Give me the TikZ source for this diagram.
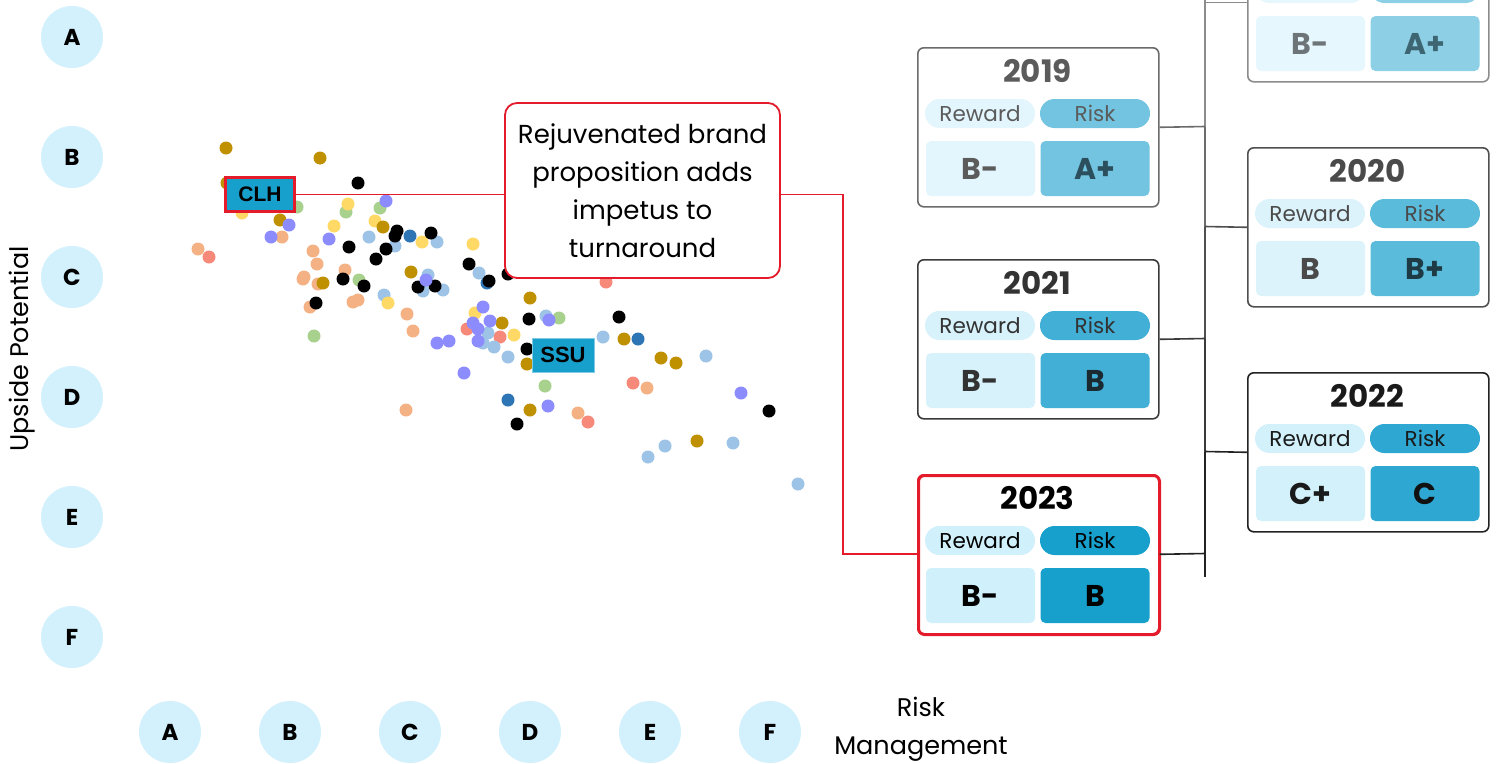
\documentclass[tikz,border=0pt]{standalone}
\usepackage{fontspec}
\setmainfont{Poppins}
\newfontfamily\arialf{Liberation Sans}
\usetikzlibrary{calc}
% dot colours
\definecolor{cgold}{HTML}{BF9000}
\definecolor{cpeach}{HTML}{F4B183}
\definecolor{csalmon}{HTML}{F7897B}
\definecolor{cgreen}{HTML}{A9D18E}
\definecolor{cyellow}{HTML}{FFD966}
\definecolor{cperi}{HTML}{8C8CFF}
\definecolor{cltblue}{HTML}{9DC3E6}
\definecolor{cdkblue}{HTML}{2E75B6}
\definecolor{axisfill}{HTML}{D3F1FC}
\definecolor{hlred}{HTML}{E31B2B}
\definecolor{tagblue}{HTML}{18A0CC}
% card palettes: bd border, tx text, lt light fill, dk dark fill, tr risk value text
\definecolor{bda}{HTML}{8C8C8C}\definecolor{txa}{HTML}{6E7579}\definecolor{lta}{HTML}{E6F7FD}\definecolor{dka}{HTML}{8DD0E6}\definecolor{tra}{HTML}{3E6572}
\definecolor{bdb}{HTML}{6B6B6B}\definecolor{txb}{HTML}{5B5B5B}\definecolor{ltb}{HTML}{E3F6FD}\definecolor{dkb}{HTML}{73C4E0}\definecolor{trb}{HTML}{2B4F5C}
\definecolor{bdc}{HTML}{4F4F4F}\definecolor{txc}{HTML}{4A4A4A}\definecolor{ltc}{HTML}{DCF3FB}\definecolor{dkc}{HTML}{5ABBDB}\definecolor{trc}{HTML}{1E3B45}
\definecolor{bdd}{HTML}{3A3A3A}\definecolor{txd}{HTML}{333333}\definecolor{ltd}{HTML}{D7F2FB}\definecolor{dkd}{HTML}{41AFD6}\definecolor{trd}{HTML}{1A2A30}
\definecolor{bde}{HTML}{222222}\definecolor{txe}{HTML}{1A1A1A}\definecolor{lte}{HTML}{D3F1FB}\definecolor{dke}{HTML}{2EA8D2}\definecolor{tre}{HTML}{111111}
\definecolor{bdf}{HTML}{E31B2B}\definecolor{txf}{HTML}{000000}\definecolor{ltf}{HTML}{D0F1FC}\definecolor{dkf}{HTML}{18A0CC}\definecolor{trf}{HTML}{000000}
\tikzset{
  axiscirc/.style={circle, fill=axisfill, minimum size=62pt, inner sep=0pt,
    font=\fontsize{23}{23}\selectfont\bfseries},
  axislabel/.style={font=\fontsize{25.5}{38}\selectfont, align=center},
  cardbox/.style={rectangle, rounded corners=6pt, minimum width=241pt, minimum height=159pt,
    fill=white, line width=1.6pt, inner sep=0pt},
  yeartext/.style={font=\fontsize{31}{31}\selectfont\bfseries, inner sep=0pt},
  pill/.style={rectangle, rounded corners=14.5pt, minimum width=110pt, minimum height=29pt,
    inner sep=0pt, font=\fontsize{21.5}{21.5}\selectfont},
  valbox/.style={rectangle, rounded corners=5pt, minimum width=109pt, minimum height=55pt,
    inner sep=0pt, font=\fontsize{30}{30}\selectfont\bfseries},
  tag/.style={rectangle, fill=tagblue, inner sep=0pt, font=\arialf\bfseries\fontsize{21}{21}\selectfont},
  hlline/.style={draw=hlred, line width=1.8pt},
  treeline/.style={line width=1.6pt},
}
\newcommand\yearcard[9]{%
  \node[cardbox, draw=bd#7, anchor=north west] (#1) at (#2,#3) {};
  \node[yeartext, text=tx#7] (#1yr) at ($(#1.north west)+(120.5,24)$) {#4};
  \node[pill, fill=lt#7, text=tx#7] (#1rw) at ($(#1.north west)+(63,66.5)$) {#8};
  \node[pill, fill=dk#7, text=tx#7] (#1rk) at ($(#1.north west)+(178,66.5)$) {#9};
  \node[valbox, fill=lt#7, text=tx#7] (#1v1) at ($(#1.north west)+(63.5,121.5)$) {#5};
  \node[valbox, fill=dk#7, text=tr#7] (#1v2) at ($(#1.north west)+(178,121.5)$) {#6};
}
\begin{document}
\begin{tikzpicture}[x=1pt, y=-1pt]
\useasboundingbox (0,0) rectangle (1496,763);
\clip (0,0) rectangle (1496,763);
\fill[white] (0,0) rectangle (1496,763);

% ---------- axes ----------
\foreach \l/\yy in {A/37,B/157,C/277,D/397,E/517,F/637}
  \node[axiscirc] (y\l) at (72,\yy) {\l};
\foreach \l/\xx in {A/170,B/290,C/410,D/530,E/650,F/770}
  \node[axiscirc] (x\l) at (\xx,732) {\l};
\node[axislabel, rotate=90] (ylab) at (22,349) {Upside Potential};
\node[axislabel] (xlab) at (921,729) {Risk\\Management};

% ---------- scatter ----------
\foreach \p in {(282,237),(198,249),(313,251),(317,264),(304,277),(303,279),(318,284),(345,270),(353,302),(358,300),(310,307),(407,314),(413,331),(406,410),(578,413),(647,388)}
  \fill[cpeach] \p circle (6.5);
\foreach \p in {(209,257),(467,329),(500,337),(606,282),(633,383),(588,422)}
  \fill[csalmon] \p circle (6.5);
\foreach \p in {(369,237),(395,246),(437,242),(384,295),(428,275),(443,290),(423,291),(479,273),(488,333),(494,347),(508,357),(483,343),(546,316),(603,337),(706,356),(648,457),(665,446),(733,443),(798,484)}
  \fill[cltblue] \p circle (6.5);
\foreach \p in {(297,207),(346,212),(380,208),(359,280),(314,336),(559,318),(545,386)}
  \fill[cgreen] \p circle (6.5);
\foreach \p in {(242,213),(348,204),(334,226),(375,221),(422,242),(388,303),(473,244),(475,313),(514,335)}
  \fill[cyellow] \p circle (6.5);
\foreach \p in {(226,148),(320,158),(227,183),(280,220),(383,227),(411,272),(323,283),(530,298),(502,323),(624,339),(661,358),(676,363),(527,364),(530,410),(697,441)}
  \fill[cgold] \p circle (6.5);
\foreach \p in {(386,201),(289,225),(271,237),(329,239),(437,343),(449,341),(464,373),(483,307),(473,323),(490,321),(478,329),(478,341),(549,320),(548,406),(741,393)}
  \fill[cperi] \p circle (6.5);
\foreach \p in {(410,236),(487,283),(508,400),(638,339)}
  \fill[cdkblue] \p circle (6.5);
\foreach \p in {(358,183),(349,247),(376,259),(386,249),(395,236),(397,231),(431,233),(343,279),(364,286),(418,287),(435,286),(316,303),(469,264),(489,281),(508,274),(529,319),(619,317),(527,349),(769,411),(517,424)}
  \fill[black] \p circle (6.5);
\fill[cperi] (426,280) circle (6.5);

% ---------- tags ----------
\node[tag, draw=hlred, line width=3pt, minimum width=69pt, minimum height=34pt] (clh) at (260,194.5) {CLH};
\node[tag, draw=tagblue!55, line width=0.6pt, minimum width=62pt, minimum height=34pt,
      font=\arialf\bfseries\fontsize{22}{22}\selectfont] (ssu) at (563,355) {SSU};

% ---------- cards ----------
\yearcard{c2018}{1247}{-78}{}{B-}{A+}{a}{}{}
\yearcard{c2019}{917}{47}{2019}{B-}{A+}{b}{Reward}{Risk}
\yearcard{c2020}{1247}{147}{2020}{B}{B+}{c}{Reward}{Risk}
\yearcard{c2021}{917}{259}{2021}{B-}{B}{d}{Reward}{Risk}
\yearcard{c2022}{1247}{372}{2022}{C+}{C}{e}{Reward}{Risk}
\yearcard{c2023}{917}{474}{2023}{B-}{B}{f}{Reward}{Risk}
\node[cardbox, draw=hlred, line width=3pt, fill=none, anchor=north west] (c2023frame) at (917,474) {};

% ---------- tree ----------
\coordinate (t0) at (1205,0);
\coordinate (t1) at (1205,126.5);
\coordinate (t2) at (1205,226.5);
\coordinate (t3) at (1205,338.5);
\coordinate (t4) at (1205,451.5);
\coordinate (t5) at (1205,553.5);
\coordinate (tend) at (1205,577);
\draw[treeline, bda] (t0) -- (t1);
\draw[treeline, bdb] (t1) -- (t2);
\draw[treeline, bdc] (t2) -- (t3);
\draw[treeline, bdd] (t3) -- (t4);
\draw[treeline, bde] (t4) -- (tend);
\draw[treeline, bda] (c2018.west) -- (c2018.west -| t0);
\draw[treeline, bdb] (c2019.east) -- (t1);
\draw[treeline, bdc] (c2020.west) -- (t2);
\draw[treeline, bdd] (c2021.east) -- (t3);
\draw[treeline, bde] (c2022.west) -- (t4);
\draw[treeline, bde] (c2023.east) -- (t5);

% ---------- callout ----------
\coordinate (bend) at (843,194.5);
\draw[hlline] (clh.east) -- (bend) |- (c2023.west);
\node[draw=hlred, line width=1.8pt, fill=white, rounded corners=12pt, minimum width=275pt,
      minimum height=175pt, inner sep=0pt, align=center,
      font=\fontsize{26}{38}\selectfont] (callout) at (642.5,190.5)
  {Rejuvenated brand\\proposition adds\\impetus to\\turnaround};
\end{tikzpicture}
\end{document}
